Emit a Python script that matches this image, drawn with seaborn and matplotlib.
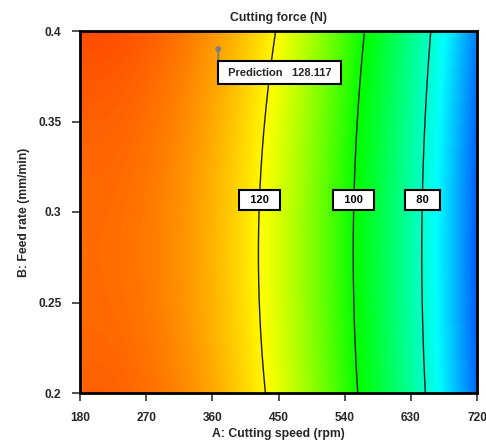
import numpy as np
import pandas as pd
import matplotlib
matplotlib.use("Agg")
import matplotlib.pyplot as plt
from matplotlib.colors import LinearSegmentedColormap, Normalize
import seaborn as sns

# ---- data ----
title = "Cutting force (N)"
x_label = "A: Cutting speed (rpm)"
y_label = "B: Feed rate (mm/min)"
speed_range = [180, 720]          # A, rpm
feed_range = [0.2, 0.4]           # B, mm/min
x_ticks = [180, 270, 360, 450, 540, 630, 720]
y_ticks = [0.2, 0.25, 0.3, 0.35, 0.4]
y_tick_labels = ["0.2", "0.25", "0.3", "0.35", "0.4"]

# quadratic response-surface model in coded units (estimated from contours)
coef_terms = ["Intercept", "A", "B", "AB", "A^2", "B^2"]
coef_values = [116.61, -36.5, 0.90, 0.0, -19.5, 1.97]

contour_levels = [80, 100, 120]
label_spots_A = [645, 554, 424]
label_spots_B = [0.3065, 0.3065, 0.3065]

pred_A = [368]
pred_B = [0.39]
pred_value = "128.117"

# colour scale nodes (response value -> colour)
color_values = [52, 75, 99.5, 119.5, 144]
color_list = ["#0000ff", "#00ffff", "#00ff00", "#ffff00", "#ff0000"]

# ---- figure ----
sns.set_style("ticks")
plt.rcParams["font.family"] = ["Liberation Sans", "DejaVu Sans"]
plt.rcParams["font.weight"] = "bold"
FS_LAB = 8.8
FS_TICK = 8.6
FS_BOX = 8.0

W, H = 486, 441
fig = plt.figure(figsize=(W / 100, H / 100), dpi=100)
ax = fig.add_axes([80 / W, 1 - 393 / H, (477 - 80) / W, (393 - 31) / H])

c = dict(zip(coef_terms, coef_values))
A = np.linspace(speed_range[0], speed_range[1], 400)
B = np.linspace(feed_range[0], feed_range[1], 400)
AA, BB = np.meshgrid(A, B)
a = (AA - np.mean(speed_range)) / (np.diff(speed_range)[0] / 2)
b = (BB - np.mean(feed_range)) / (np.diff(feed_range)[0] / 2)
F = (c["Intercept"] + c["A"] * a + c["B"] * b + c["AB"] * a * b
     + c["A^2"] * a ** 2 + c["B^2"] * b ** 2)

vmin, vmax = color_values[0], color_values[-1]
nodes = [(v - vmin) / (vmax - vmin) for v in color_values]
cmap = LinearSegmentedColormap.from_list("de", list(zip(nodes, color_list)))
ax.pcolormesh(AA, BB, F, cmap=cmap, norm=Normalize(vmin, vmax),
              shading="gouraud", rasterized=True)

cs = ax.contour(AA, BB, F, levels=contour_levels, colors="#1a1a1a",
                linewidths=1.0)
texts = ax.clabel(cs, fmt=lambda v: f"  {v:.0f}  ", inline=False, fontsize=FS_BOX,
                  manual=list(zip(label_spots_A, label_spots_B)))
for t in texts:
    t.set_rotation(0)
    t.set_fontweight("bold")
    t.set_color("black")
    t.set_bbox(dict(boxstyle="square,pad=0.45", fc="white", ec="black", lw=1.5))
    t.set_zorder(5)

# prediction flag: grey pin with a vertical stem down to the label box
pred_df = pd.DataFrame({"A": pred_A, "B": pred_B})
sns.scatterplot(data=pred_df, x="A", y="B", ax=ax, color="#808080", s=18,
                edgecolor="none", zorder=7, legend=False)
stem_px = 12
ax.annotate("", xy=(pred_A[0], pred_B[0]), xytext=(0, -stem_px),
            textcoords="offset pixels", zorder=6,
            arrowprops=dict(arrowstyle="-", color="#808080", lw=1.5,
                            shrinkA=0, shrinkB=0))
pad_px = 0.6 * FS_BOX * 100 / 72
ax.annotate(f" Prediction   {pred_value} ", xy=(pred_A[0], pred_B[0]),
            xytext=(pad_px, -(stem_px + pad_px)), textcoords="offset pixels",
            ha="left", va="top", fontsize=FS_BOX, fontweight="bold", zorder=6,
            bbox=dict(boxstyle="square,pad=0.6", fc="white", ec="black", lw=1.5))

ax.set_xlim(speed_range)
ax.set_ylim(feed_range)
ax.set_xticks(x_ticks)
ax.set_yticks(y_ticks)
ax.set_yticklabels(y_tick_labels)
ax.tick_params(direction="out", length=6, width=1.2, color="#333333",
               labelsize=FS_TICK, pad=7.5)
for lab in ax.get_xticklabels() + ax.get_yticklabels():
    lab.set_fontweight("bold")
for s in ax.spines.values():
    s.set_visible(True)
    s.set_linewidth(2.0)
    s.set_color("black")

ax.set_xlabel(x_label, fontsize=FS_LAB, fontweight="bold", labelpad=3)
ax.set_ylabel(y_label, fontsize=FS_LAB, fontweight="bold", labelpad=6)
ax.set_title(title, fontsize=FS_LAB, fontweight="bold", pad=7)

fig.savefig("out.png", dpi=100)
